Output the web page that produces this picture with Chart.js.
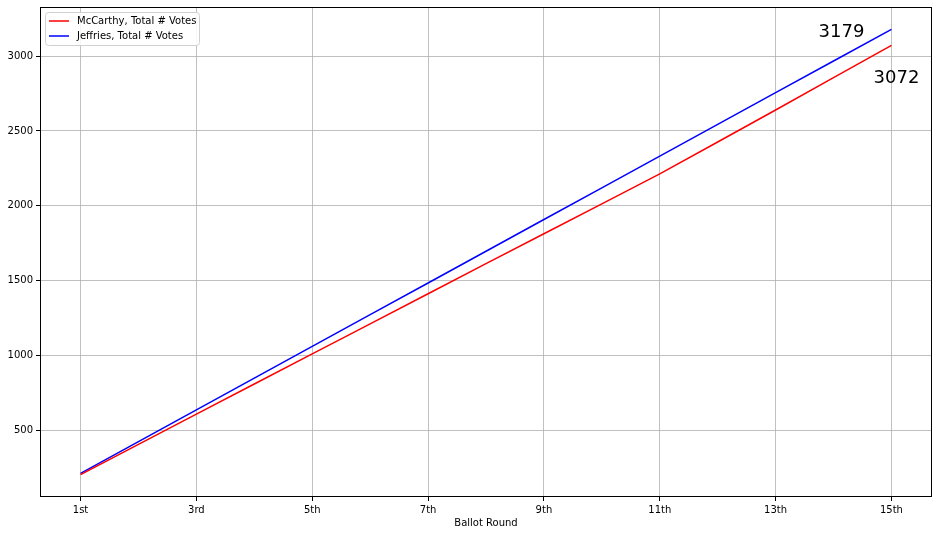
<!DOCTYPE html>
<html>
<head>
<meta charset="utf-8">
<script src="https://cdn.jsdelivr.net/npm/chart.js@4/dist/chart.umd.min.js"></script>
<style>
  html, body { margin: 0; padding: 0; background: #fff; }
  canvas { display: block; }
</style>
</head>
<body>
<canvas id="myChart" width="939" height="534"></canvas>
<script>
// data //
const rounds = [1, 2, 3, 4, 5, 6, 7, 8, 9, 10, 11, 12, 13, 14, 15];
const roundLabels = {1: "1st", 3: "3rd", 5: "5th", 7: "7th", 9: "9th", 11: "11th", 13: "13th", 15: "15th"};
const xTicks = [1, 3, 5, 7, 9, 11, 13, 15];
const yTicks = [500, 1000, 1500, 2000, 2500, 3000];
const mccarthy = [203, 406, 608, 809, 1010, 1211, 1412, 1613, 1813, 2013, 2213, 2426, 2640, 2856, 3072];
const jeffries = [212, 424, 636, 848, 1060, 1272, 1484, 1696, 1908, 2120, 2332, 2544, 2756, 2967, 3179];

const font = "DejaVu Sans";
Chart.defaults.font.family = font;
Chart.defaults.color = "#000";

function pts(vals) {
  return vals.map(function (v, i) { return {x: rounds[i], y: v}; });
}

// frame + legend + end labels //
const extras = {
  id: "extras",
  afterDatasetsDraw(chart) {
    const ctx = chart.ctx;
    const a = chart.chartArea;
    ctx.save();
    ctx.strokeStyle = "#000";
    ctx.lineWidth = 1;
    ctx.strokeRect(Math.round(a.left) + 0.5, Math.round(a.top) + 0.5,
      Math.round(a.right - a.left) - 1, Math.round(a.bottom - a.top) - 1);

    // end labels
    const xs = chart.scales.x, ys = chart.scales.y;
    const last = rounds.length - 1;
    ctx.font = "18px " + font;
    ctx.fillStyle = "#000";
    ctx.textAlign = "center";
    ctx.textBaseline = "middle";
    ctx.fillText(String(jeffries[last]), xs.getPixelForValue(rounds[last]) - 50, ys.getPixelForValue(jeffries[last]) + 3);
    ctx.fillText(String(mccarthy[last]), xs.getPixelForValue(rounds[last]) + 5, ys.getPixelForValue(mccarthy[last]) + 33);

    // legend
    const lx = a.left + 5, ly = a.top + 5;
    ctx.fillStyle = "rgba(255,255,255,0.85)";
    ctx.strokeStyle = "#d0d0d0";
    ctx.beginPath();
    ctx.roundRect(lx + 0.5, ly + 0.5, 154, 33, 3);
    ctx.fill();
    ctx.stroke();
    ctx.font = "10px " + font;
    ctx.textAlign = "left";
    chart.data.datasets.forEach(function (ds, i) {
      const y = ly + 9 + i * 15;
      ctx.strokeStyle = ds.borderColor;
      ctx.lineWidth = 1.5;
      ctx.beginPath();
      ctx.moveTo(lx + 4, y);
      ctx.lineTo(lx + 24, y);
      ctx.stroke();
      ctx.fillStyle = "#000";
      ctx.fillText(ds.label, lx + 32, y);
    });
    ctx.restore();
  }
};

new Chart("myChart", {
  type: "line",
  data: {
    datasets: [{
      label: "McCarthy, Total # Votes",
      data: pts(mccarthy),
      borderColor: "#ff0000",
      borderWidth: 1.5,
      pointRadius: 0,
      tension: 0
    }, {
      label: "Jeffries, Total # Votes",
      data: pts(jeffries),
      borderColor: "#0000ff",
      borderWidth: 1.5,
      pointRadius: 0,
      tension: 0
    }]
  },
  options: {
    responsive: false,
    animation: false,
    layout: {padding: {top: 7, right: 7, left: 0, bottom: 5}},
    plugins: {legend: {display: false}, tooltip: {enabled: false}},
    scales: {
      x: {
        type: "linear",
        min: 0.3,
        max: 15.7,
        afterBuildTicks: function (s) { s.ticks = xTicks.map(function (v) { return {value: v}; }); },
        afterFit: function (s) { s.height = 32; s.paddingLeft = 0; s.paddingRight = 0; },
        ticks: {
          font: {size: 10},
          padding: 3,
          maxRotation: 0,
          callback: function (v) { return roundLabels[v] || ""; }
        },
        grid: {color: "#b0b0b0", lineWidth: 0.8, tickLength: 4, tickColor: "#000", tickWidth: 1},
        border: {display: false},
        title: {display: true, text: "Ballot Round", font: {size: 10}, padding: {top: 2, bottom: 0}}
      },
      y: {
        type: "linear",
        min: 54,
        max: 3328,
        afterBuildTicks: function (s) { s.ticks = yTicks.map(function (v) { return {value: v}; }); },
        afterFit: function (s) { s.width = 40; s.paddingTop = 0; s.paddingBottom = 0; },
        ticks: {font: {size: 10}, padding: 3, callback: function (v) { return String(v); }},
        grid: {color: "#b0b0b0", lineWidth: 0.8, tickLength: 4, tickColor: "#000", tickWidth: 1},
        border: {display: false}
      }
    }
  },
  plugins: [extras]
});
</script>
</body>
</html>
